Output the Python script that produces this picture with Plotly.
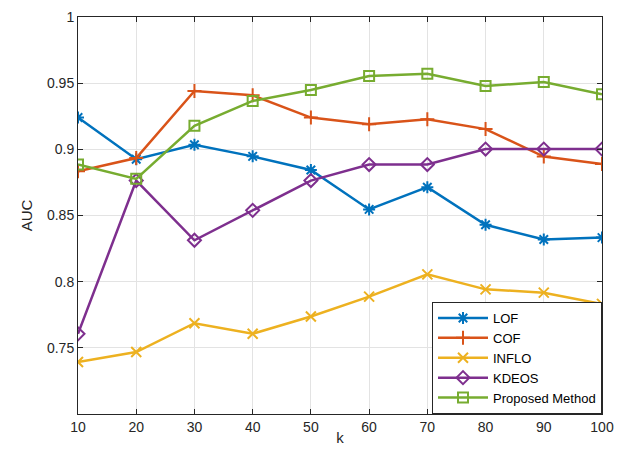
import plotly.graph_objects as go

k = [10, 20, 30, 40, 50, 60, 70, 80, 90, 100]
lof = [0.924, 0.8925, 0.9035, 0.8947, 0.8844, 0.8546, 0.8714, 0.843, 0.8318, 0.8333]
cof = [0.8834, 0.8934, 0.9441, 0.9408, 0.924, 0.919, 0.9228, 0.9153, 0.8945, 0.8889]
inflo = [0.7393, 0.7468, 0.7686, 0.7606, 0.7737, 0.7887, 0.8055, 0.7942, 0.7917, 0.7832]
kdeos = [0.7606, 0.8764, 0.8313, 0.8539, 0.8764, 0.8885, 0.8885, 0.9002, 0.9002, 0.9002]
proposed = [0.8885, 0.8777, 0.9178, 0.9366, 0.9449, 0.9554, 0.9571, 0.9479, 0.9509, 0.9416]

series = [
    ("LOF", lof, "#0072BD", "asterisk-open"),
    ("COF", cof, "#D95319", "cross-thin-open"),
    ("INFLO", inflo, "#EDB120", "x-thin-open"),
    ("KDEOS", kdeos, "#7E2F8E", "diamond-open"),
    ("Proposed Method", proposed, "#77AC30", "square-open"),
]

fig = go.Figure()
for name, vals, color, sym in series:
    fig.add_trace(go.Scatter(
        x=k, y=vals, name=name, mode="lines+markers",
        line=dict(color=color, width=2.5),
        marker=dict(symbol=sym, size=10, color=color, line=dict(color=color, width=2)),
    ))

axis_common = dict(
    showline=True, linecolor="#262626", linewidth=1, mirror="ticks",
    ticks="inside", ticklen=5, tickcolor="#262626",
    showgrid=True, gridcolor="#E3E3E3", gridwidth=1, zeroline=False,
    automargin=False, ticklabeloverflow="allow",
    tickfont=dict(family="Liberation Sans, Arial", size=14, color="#262626"),
)

fig.update_xaxes(range=[10, 100], tickvals=k, ticktext=[str(v) for v in k],
                 title=dict(text="k", font=dict(family="Liberation Sans, Arial", size=15, color="#262626"), standoff=5),
                 **axis_common)
yt = [0.75, 0.8, 0.85, 0.9, 0.95, 1.0]
fig.update_yaxes(range=[0.7, 1.0], tickvals=yt, ticktext=["0.75", "0.8", "0.85", "0.9", "0.95", "1"],
                 title=dict(text="AUC", font=dict(family="Liberation Sans, Arial", size=15, color="#262626"), standoff=10),
                 **axis_common)

fig.update_layout(
    width=618, height=438,
    margin=dict(l=70, r=24, t=9, b=32),
    plot_bgcolor="white", paper_bgcolor="white",
    legend=dict(x=1, y=0, xanchor="right", yanchor="bottom",
                bgcolor="white", bordercolor="#262626", borderwidth=1,
                font=dict(family="Liberation Sans, Arial", size=13, color="black"),
                tracegroupgap=0, itemwidth=50),
    showlegend=True,
)

fig.write_html("out.html")
